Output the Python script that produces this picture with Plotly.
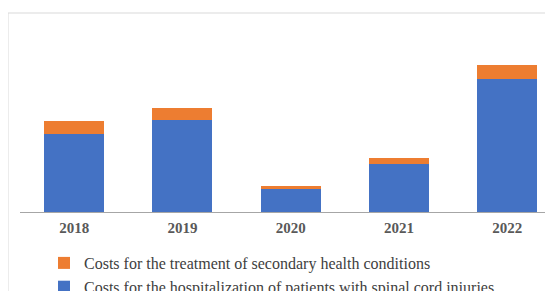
import plotly.graph_objects as go

years = ["2018", "2019", "2020", "2021", "2022"]
hospitalization = [78, 92, 23, 48, 133.3]
secondary = [12.7, 12, 3.3, 6, 13.7]

name_hosp = "Costs for the hospitalization of patients with spinal cord injuries"
name_sec = "Costs for the treatment of secondary health conditions"

W, H = 553, 291
OFF = 8  # page body margin offset
L = 20 - OFF
T = 20 - OFF
B = H - (212 - OFF)
plot_w = W - L
plot_h = H - T - B

fig = go.Figure()
fig.add_trace(go.Bar(x=years, y=hospitalization, name=name_hosp,
                     marker=dict(color="#4472C4", line=dict(width=0))))
fig.add_trace(go.Bar(x=years, y=secondary, name=name_sec,
                     marker=dict(color="#ED7D31", line=dict(width=0))))

def px_x(p):
    # p: page pixel
    return (p - OFF - L) / plot_w

def px_y(p):
    return (H - B - (p - OFF)) / plot_h

cat_w = 108.3
x_end = plot_w / cat_w - 0.5

fig.update_layout(
    width=W, height=H,
    barmode="stack",
    bargap=0.446,
    margin=dict(l=L, r=0, t=T, b=B, pad=0, autoexpand=False),
    paper_bgcolor="white",
    plot_bgcolor="white",
    font=dict(family="Liberation Serif, Times New Roman, serif", color="#404040"),
    xaxis=dict(range=[-0.5, x_end], showline=True, linecolor="#a6a6a6", linewidth=1,
               ticks="", showgrid=False, zeroline=False, ticklabelstandoff=2,
               tickfont=dict(size=15, color="#595959", weight="bold")),
    yaxis=dict(range=[0, plot_h], visible=False, showgrid=False, zeroline=False),
    legend=dict(orientation="v", traceorder="reversed",
                x=px_x(44), y=px_y(246), xanchor="left", yanchor="top",
                font=dict(size=16, color="#404040"), bgcolor="rgba(0,0,0,0)"),
    showlegend=True,
    shapes=[dict(type="rect", xref="paper", yref="paper",
                 x0=px_x(8), x1=px_x(580), y0=px_y(320), y1=px_y(13),
                 line=dict(color="#d9d9d9", width=1), layer="below")],
)

fig.write_html("out.html")
